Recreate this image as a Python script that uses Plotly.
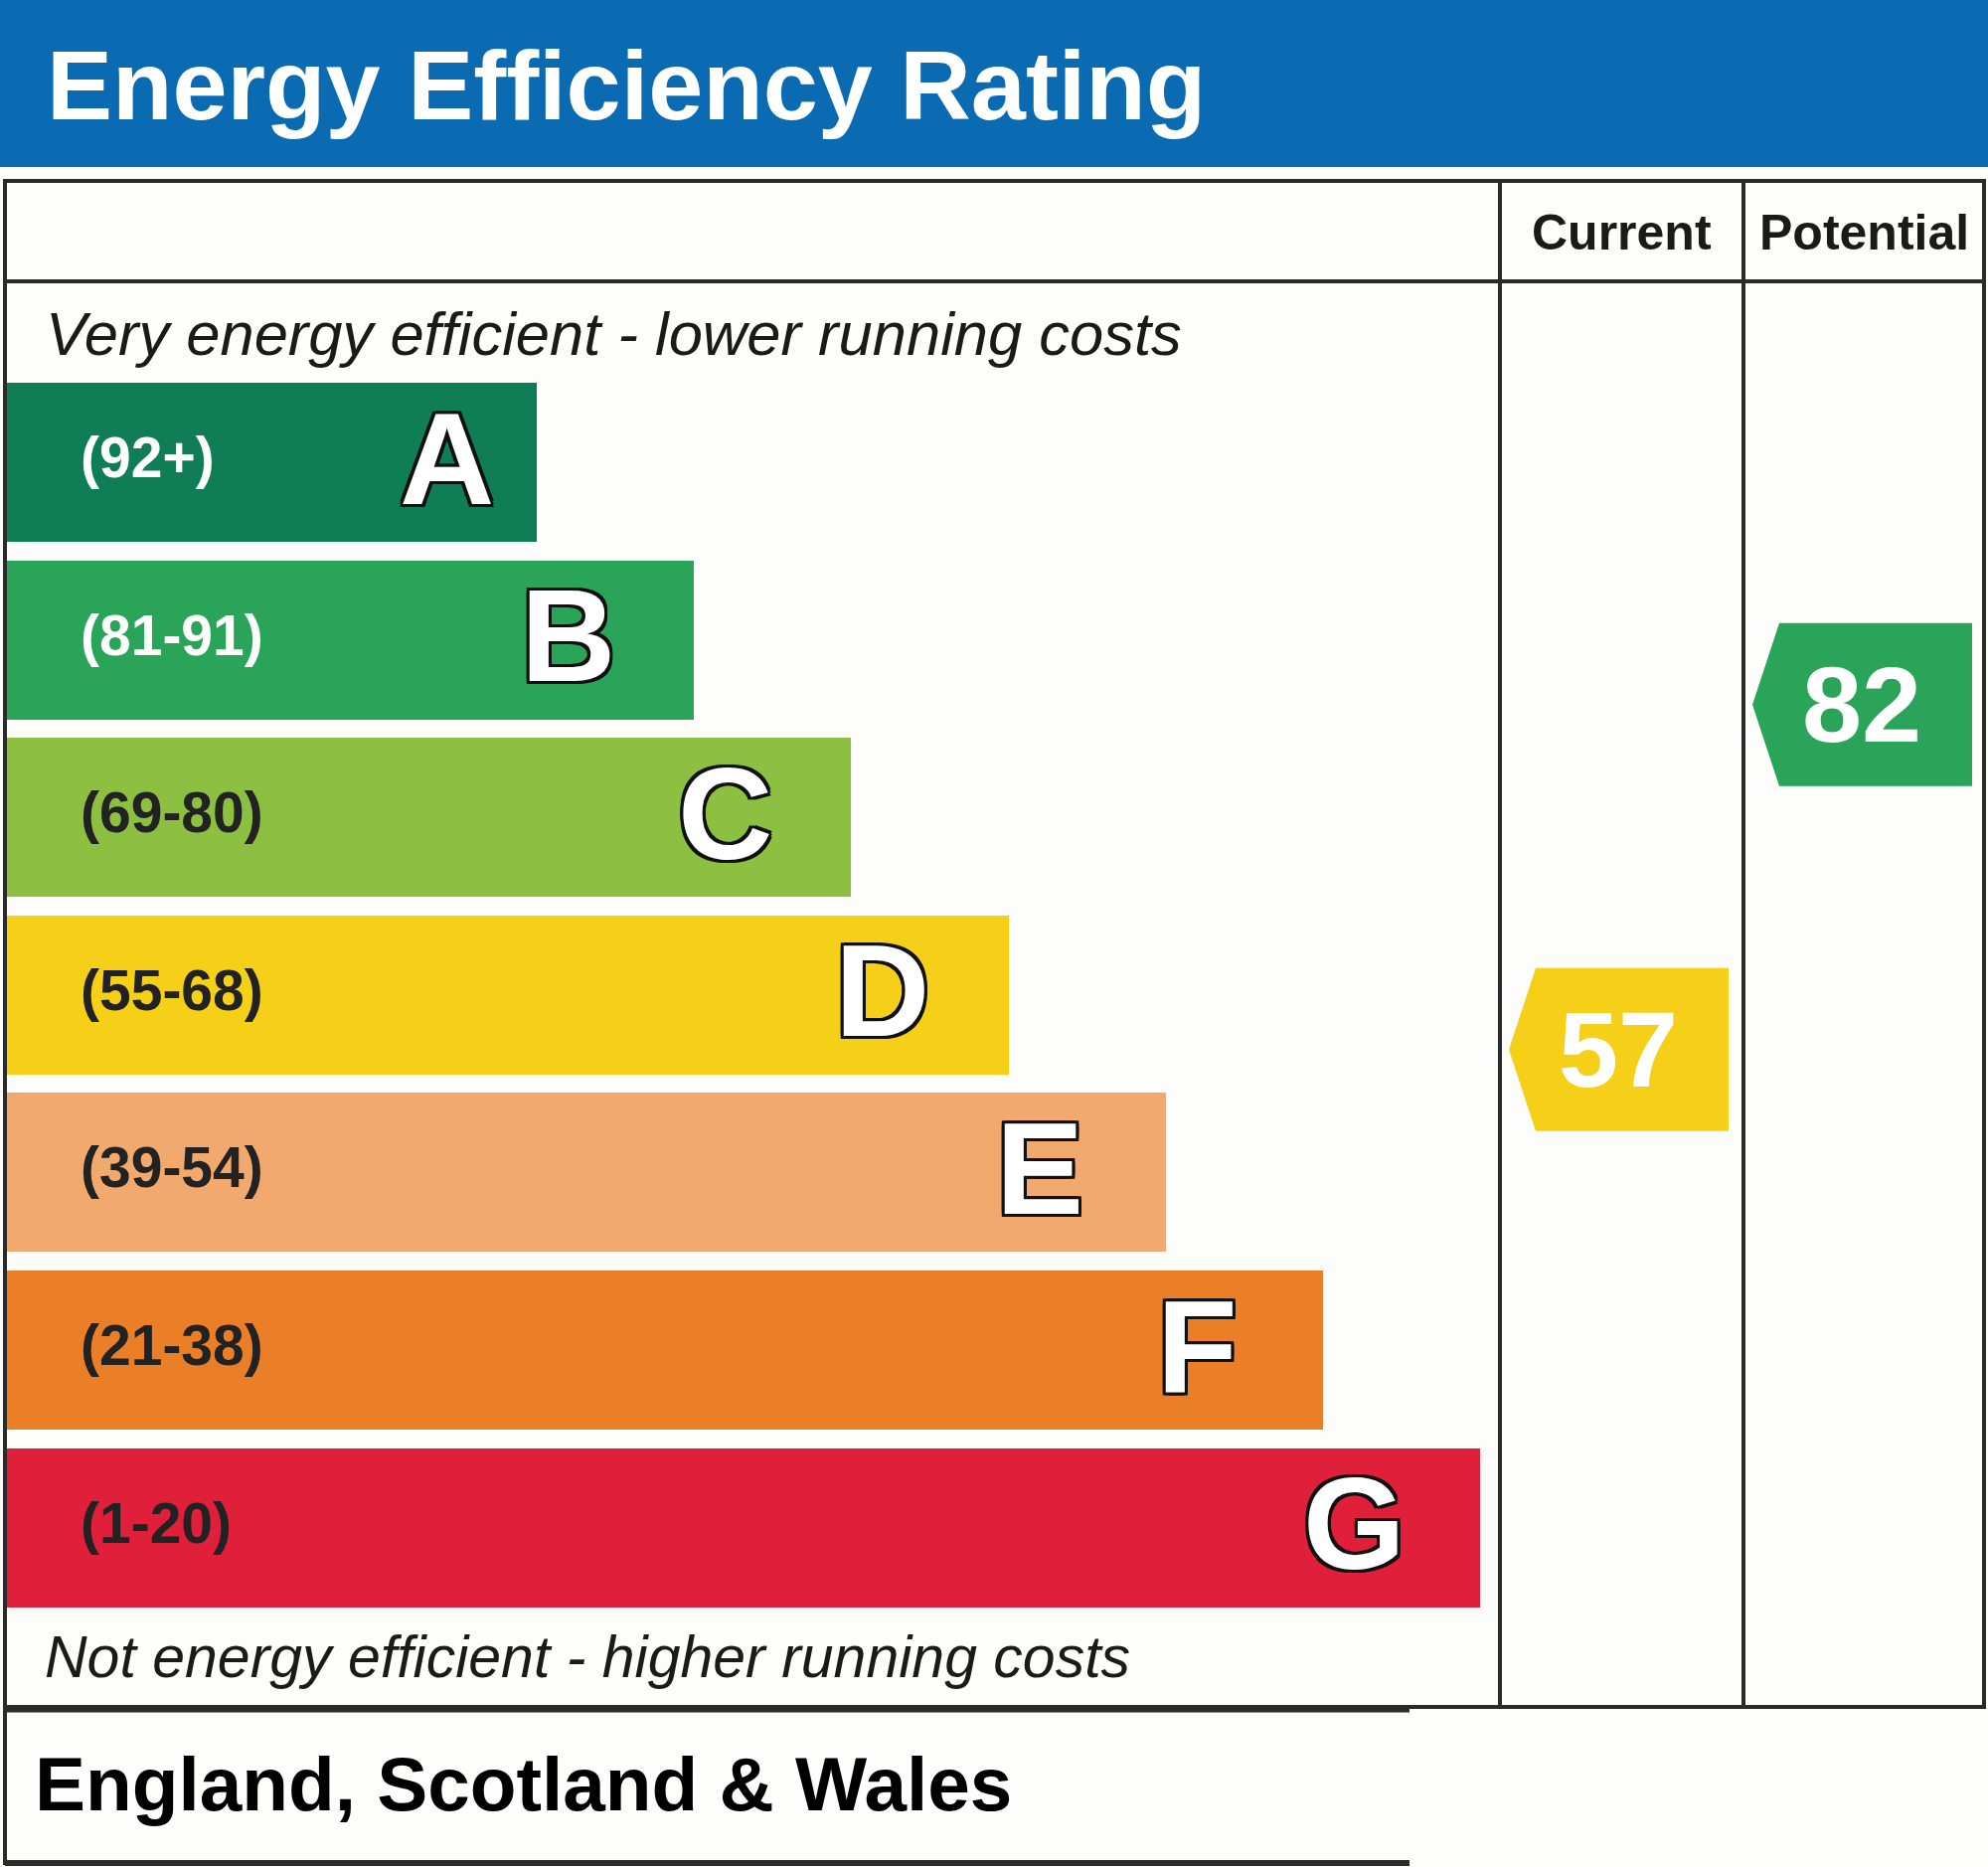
import plotly.graph_objects as go

# ----------------------------------- Chart Data -----------------------------------
bands = ["A", "B", "C", "D", "E", "F", "G"]
band_ranges = ["(92+)", "(81-91)", "(69-80)", "(55-68)", "(39-54)", "(21-38)", "(1-20)"]
band_colors = ["#0f7d55", "#29a459", "#8dbf41", "#f5cf18", "#f2a96e", "#eb7f27", "#e01f3b"]
range_text_colors = ["white", "white", "#222222", "#222222", "#222222", "#222222", "#222222"]

column_titles = ["Current", "Potential"]
scores = [57, 82]
score_colors = ["#f5cf18", "#29a459"]

# ------------------------------------ Layout ---------------------------------------
W, H = 2000, 1878
FONT = "Liberation Sans, Arial, sans-serif"
LINE = "#2b2b2b"

bar_left = 6
bar_top_center = 465
bar_step = 178.6
bar_height = 160
bar_first_right = 540
bar_len_step = 158.2

col_x = [1509, 1754, 1996]   # column dividers (current | potential | right border)
box_top, header_bottom, box_bottom = 182, 283, 1717


def score_to_y(s):
    # vertical position of a score arrow on the scale
    return 459 + (100 - s) * 13.88


fig = go.Figure()

centers = [bar_top_center + i * bar_step for i in range(len(bands))]
rights = [bar_first_right + i * bar_len_step for i in range(len(bands))]

# Rating bars
fig.add_trace(go.Bar(
    orientation="h",
    y=centers,
    x=[r - bar_left for r in rights],
    base=bar_left,
    width=bar_height,
    marker=dict(color=band_colors, line=dict(width=0)),
    hoverinfo="skip",
    showlegend=False,
))

annotations = []

outline = ", ".join(f"{dx}px {dy}px 0 #111" for dx in (-3, 0, 3) for dy in (-3, 0, 3) if dx or dy)

for i, band in enumerate(bands):
    annotations.append(dict(
        x=79, y=centers[i] - 5, text=band_ranges[i], xanchor="left", yanchor="middle",
        showarrow=False, font=dict(family=FONT, size=57, color=range_text_colors[i], weight="bold"),
    ))
    lx = rights[i] - (91 if i == 0 else 127)
    annotations.append(dict(
        x=lx, y=centers[i] - 4, text=band, xanchor="center", yanchor="middle",
        showarrow=False,
        font=dict(family=FONT, size=132, color="white", weight="bold", shadow=outline),
    ))

# Score arrows
for j, s in enumerate(scores):
    left = col_x[j] + 9
    right = col_x[j] + 230
    yc = score_to_y(s)
    half = 82
    fig.add_trace(go.Scatter(
        x=[left, left + 27, right, right, left + 27, left],
        y=[yc, yc - half, yc - half, yc + half, yc + half, yc],
        fill="toself", fillcolor=score_colors[j], mode="lines",
        line=dict(width=0, color=score_colors[j]),
        hoverinfo="skip", showlegend=False,
    ))
    annotations.append(dict(
        x=left + 110, y=yc, text=str(s), xanchor="center", yanchor="middle",
        showarrow=False, font=dict(family=FONT, size=108, color="white", weight="bold"),
    ))

# Column titles
for j, t in enumerate(column_titles):
    annotations.append(dict(
        x=(col_x[j] + col_x[j + 1]) / 2, y=234, text=t, xanchor="center", yanchor="middle",
        showarrow=False, font=dict(family=FONT, size=50, color="#1a1a1a", weight="bold"),
    ))

# Other texts
annotations += [
    dict(x=45, y=85, text="Energy Efficiency Rating", xanchor="left", yanchor="middle",
         showarrow=False, font=dict(family=FONT, size=99, color="white", weight="bold")),
    dict(x=44, y=335, text="Very energy efficient - lower running costs", xanchor="left",
         yanchor="middle", showarrow=False,
         font=dict(family=FONT, size=61.5, color="#1a1a1a", style="italic")),
    dict(x=43, y=1667, text="Not energy efficient - higher running costs", xanchor="left",
         yanchor="middle", showarrow=False,
         font=dict(family=FONT, size=59, color="#1a1a1a", style="italic")),
    dict(x=33, y=1794, text="England, Scotland & Wales", xanchor="left", yanchor="middle",
         showarrow=False, font=dict(family=FONT, size=76.5, color="black", weight="bold")),
]

# Frame lines and header band
shapes = [
    dict(type="rect", x0=0, x1=W, y0=0, y1=168, fillcolor="#0a6bb3", line=dict(width=0), layer="below"),
    dict(type="rect", x0=5, x1=col_x[2], y0=box_top, y1=box_bottom, line=dict(color=LINE, width=4)),
    dict(type="line", x0=5, x1=col_x[2], y0=header_bottom, y1=header_bottom, line=dict(color=LINE, width=4)),
    dict(type="line", x0=col_x[0], x1=col_x[0], y0=box_top, y1=box_bottom, line=dict(color=LINE, width=4)),
    dict(type="line", x0=col_x[1], x1=col_x[1], y0=box_top, y1=box_bottom, line=dict(color=LINE, width=4)),
    dict(type="line", x0=5, x1=1418, y0=box_bottom + 2, y1=box_bottom + 2, line=dict(color=LINE, width=7)),
    dict(type="line", x0=5, x1=1418, y0=1874, y1=1874, line=dict(color=LINE, width=6)),
    dict(type="line", x0=5, x1=5, y0=box_bottom, y1=1876, line=dict(color=LINE, width=4)),
]

fig.update_layout(
    width=W, height=H,
    margin=dict(l=0, r=0, t=0, b=0),
    paper_bgcolor="white", plot_bgcolor="#fdfdfb",
    xaxis=dict(range=[0, W], visible=False, fixedrange=True),
    yaxis=dict(range=[H, 0], visible=False, fixedrange=True),
    annotations=annotations,
    shapes=shapes,
    showlegend=False,
    bargap=0,
)

fig.write_html("out.html", config={"displayModeBar": False},
               post_script="document.body.style.margin='0';")
